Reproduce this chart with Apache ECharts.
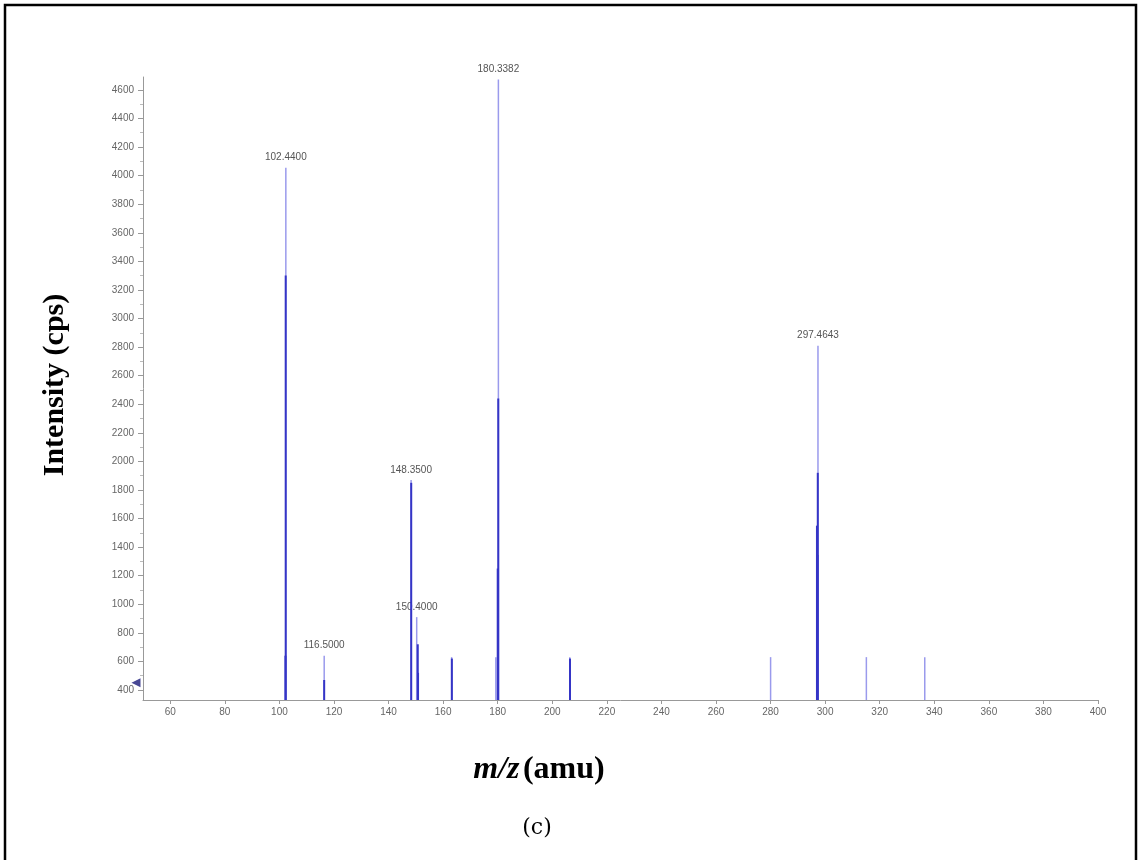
<!DOCTYPE html>
<html>
<head>
<meta charset="utf-8">
<script src="https://cdn.jsdelivr.net/npm/echarts@6/dist/echarts.min.js"></script>
<style>
html,body{margin:0;padding:0;background:#fff;}
#chart{width:1139px;height:860px;}
</style>
</head>
<body>
<div id="chart"></div>
<script>
// ---- data ----
const yTickValues = [400,600,800,1000,1200,1400,1600,1800,2000,2200,2400,2600,2800,3000,3200,3400,3600,3800,4000,4200,4400,4600];
const yMinorTicks = [500,700,900,1100,1300,1500,1700,1900,2100,2300,2500,2700,2900,3100,3300,3500,3700,3900,4100,4300,4500];
const xTickValues = [60,80,100,120,140,160,180,200,220,240,260,280,300,320,340,360,380,400];

// light (thin) sticks
const lightMz  = [102.44, 116.50, 148.35, 150.40, 180.3382, 297.4643, 163.2, 179.4, 206.5, 280.1, 315.2, 336.6];
const lightInt = [4055,   640,    1870,   910,    4672,     2810,     630,   630,   630,   630,   630,   630];
// darker (overlapping) sticks
const darkMz  = [102.30, 102.20, 116.40, 148.30, 150.70, 150.80, 180.20, 180.00, 297.30, 297.00, 297.20, 206.50, 163.20];
const darkInt = [3300,   640,    470,    1850,   720,    520,    2440,   1250,   1920,   1550,   1345,   620,    620];
// labelled peaks
const labelMz = [102.44, 116.50, 148.35, 150.40, 180.3382, 297.4643];
const markerPoint = [[50, 450]];

const chart = echarts.init(document.getElementById('chart'), null, {renderer:'canvas'});

const lightData = lightMz.map((m,i)=>{
  const item = {value:[m, lightInt[i]]};
  if (labelMz.indexOf(m) >= 0) {
    item.label = {show:true, position:'top', distance:5, formatter: m.toFixed(4),
      fontSize:10, color:'#555', fontFamily:'Liberation Sans'};
  }
  return item;
});
const darkData = darkMz.map((m,i)=>[m, darkInt[i]]);

const axisLabelStyle = {fontSize:10, color:'#666', fontFamily:'Liberation Sans',
                        formatter:(v)=>String(v)};

chart.setOption({
  animation:false,
  backgroundColor:'#fff',
  grid:{left:143, right:41, top:77, bottom:160, outerBoundsMode:'none'},
  xAxis:[{
    type:'value', min:50, max:400,
    splitLine:{show:false},
    axisLine:{show:true, lineStyle:{color:'#999', width:1}},
    axisTick:{show:true, customValues:xTickValues, length:4, lineStyle:{color:'#999'}},
    axisLabel:Object.assign({customValues:xTickValues, margin:7}, axisLabelStyle)
  }],
  yAxis:[{
    type:'value', min:330, max:4690,
    splitLine:{show:false},
    axisLine:{show:true, lineStyle:{color:'#999', width:1}},
    axisTick:{show:true, customValues:yTickValues, length:5, lineStyle:{color:'#999'}},
    axisLabel:Object.assign({customValues:yTickValues, margin:9}, axisLabelStyle)
  },{
    type:'value', min:330, max:4690, position:'left',
    splitLine:{show:false},
    axisLine:{show:false},
    axisTick:{show:true, customValues:yMinorTicks, length:3, lineStyle:{color:'#bbb'}},
    axisLabel:{show:false}
  }],
  series:[
    {
      type:'bar', name:'light', data:lightData, barWidth:1.5, barGap:'-100%',
      itemStyle:{color:'#9a9aec'}, z:2
    },
    {
      type:'bar', name:'dark', data:darkData, barWidth:2, barGap:'-100%',
      itemStyle:{color:'#3535c6'}, z:3
    },
    {
      type:'scatter', data:markerPoint, symbol:'triangle', symbolRotate:90,
      symbolSize:[9,9], symbolOffset:[-7,0], clip:false,
      itemStyle:{color:'#1a1a7a'}, z:4
    }
  ],
  graphic:[
    {type:'rect', shape:{x:5, y:5, width:1131, height:870},
     style:{fill:null, stroke:'#000', lineWidth:2.5}, silent:true},
    {type:'text', x:55, y:385, rotation:Math.PI/2,
     style:{text:'Intensity (cps)', font:'bold 30px "Liberation Serif"', fill:'#000',
            textAlign:'center', textVerticalAlign:'middle'}},
    {type:'text', x:539, y:770,
     style:{text:'{i|m/z} {b|(amu)}', textAlign:'center', textVerticalAlign:'middle',
            rich:{i:{font:'italic bold 32px "Liberation Serif"', fill:'#000'},
                  b:{font:'bold 32px "Liberation Serif"', fill:'#000'}}}},
    {type:'text', x:537, y:828,
     style:{text:'(c)', font:'22px "DejaVu Serif"', fill:'#000',
            textAlign:'center', textVerticalAlign:'middle'}}
  ]
});
</script>
</body>
</html>
